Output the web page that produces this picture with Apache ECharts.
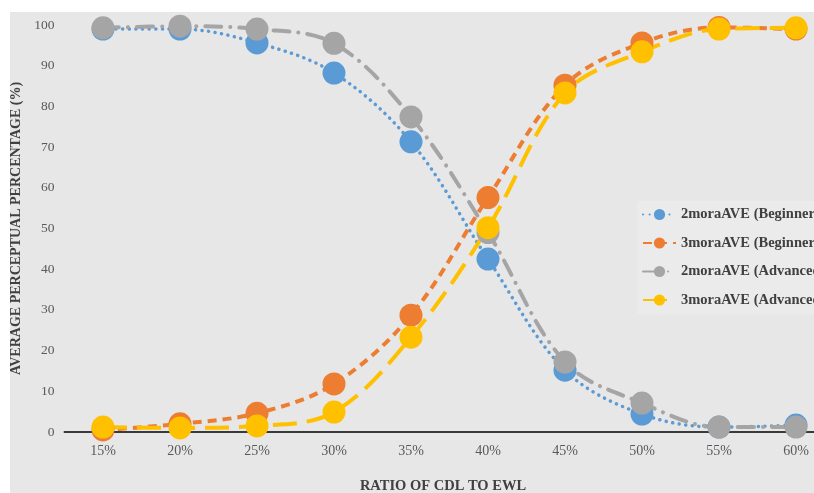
<!DOCTYPE html>
<html>
<head>
<meta charset="utf-8">
<script src="https://cdn.jsdelivr.net/npm/echarts@6/dist/echarts.min.js"></script>
<style>
html,body{margin:0;padding:0;background:#ffffff;}
#c{width:814px;height:493px;}
</style>
</head>
<body>
<div id="c"></div>
<script>
var categories = ['15%','20%','25%','30%','35%','40%','45%','50%','55%','60%'];
var beginner2 = [99, 99, 95.6, 88.2, 71.3, 42.5, 15.2, 4.4, 1.2, 1.7];
var beginner3 = [0.5, 2, 4.6, 11.8, 28.7, 57.6, 85.2, 95.6, 99.4, 99];
var advanced2 = [99.3, 99.7, 99, 95.5, 77.4, 49, 17.2, 7.1, 1.2, 1.2];
var advanced3 = [1.2, 1, 1.5, 4.9, 23.3, 50.2, 83.3, 93.4, 99, 99.3];
var seriesNames = ['2moraAVE (Beginner)', '3moraAVE (Beginner)', '2moraAVE (Advanced)', '3moraAVE (Advanced)'];
var yTicks = [0,10,20,30,40,50,60,70,80,90,100];

var font = 'Liberation Serif';
var chart = echarts.init(document.getElementById('c'), null, {renderer:'canvas'});

function mk(name, data, color, type, width, cap) {
  return {
    name: name, type: 'line', data: data, smooth: 0.35,
    symbol: 'circle', symbolSize: 23,
    itemStyle: {color: color},
    lineStyle: {color: color, width: width, type: type, cap: cap || 'butt'},
    emphasis: {disabled: true}
  };
}

chart.setOption({
  animation: false,
  graphic: [{type:'rect', shape:{x:10,y:12,width:804,height:481}, style:{fill:'#e7e7e7'}, z:-100, silent:true}],
  grid: {left: 64.5, width: 770, top: 25, height: 407, containLabel: false, outerBoundsMode: 'none'},
  legend: {
    orient: 'vertical', left: 637, top: 201,
    padding: [6, 5, 7, 5],
    backgroundColor: '#ebebeb',
    itemWidth: 33, itemHeight: 14, itemGap: 13.5,
    textStyle: {fontFamily: font, fontWeight: 'bold', fontSize: 14.5, color: '#404040'},
    data: seriesNames
  },
  xAxis: {
    type: 'category', data: categories, boundaryGap: true,
    axisLine: {lineStyle: {color: '#3a3a3a', width: 2}},
    axisTick: {show: false},
    axisLabel: {fontFamily: font, fontSize: 14, color: '#595959', margin: 12},
    name: 'RATIO OF CDL TO EWL', nameLocation: 'middle', nameGap: 47,
    nameTextStyle: {fontFamily: font, fontWeight: 'bold', fontSize: 14.5, color: '#404040', padding:[0,13,0,0]}
  },
  yAxis: {
    type: 'value', min: 0, max: 100, interval: 10,
    axisLine: {show: false}, axisTick: {show: false}, splitLine: {show: false},
    axisLabel: {fontFamily: font, fontSize: 13.5, color: '#595959', margin: 10,
      formatter: function(v){ return yTicks.indexOf(v) >= 0 ? String(v) : ''; }},
    name: 'AVERAGE PERCEPTUAL PERCENTAGE (%)', nameLocation: 'middle', nameGap: 33,
    nameTextStyle: {fontFamily: font, fontWeight: 'bold', fontSize: 14, color: '#404040'}
  },
  series: [
    mk(seriesNames[0], beginner2, '#5b9bd5', [0.1, 6.5], 3.5, 'round'),
    mk(seriesNames[1], beginner3, '#ed7d31', [9, 6], 4),
    mk(seriesNames[2], advanced2, '#a5a5a5', [16, 9, 0.1, 9], 4, 'round'),
    mk(seriesNames[3], advanced3, '#ffc000', [24, 10], 4)
  ]
});
</script>
</body>
</html>
